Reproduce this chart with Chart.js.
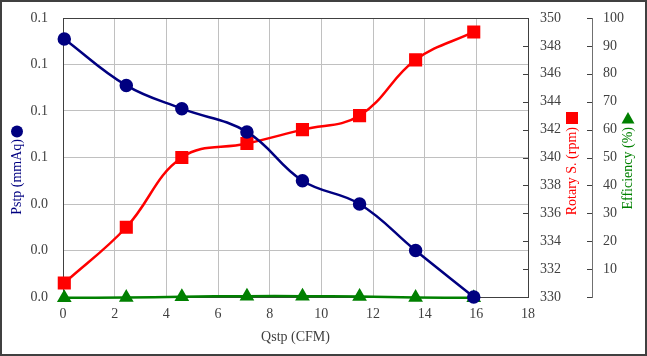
<!DOCTYPE html>
<html><head><meta charset="utf-8">
<script src="https://cdn.jsdelivr.net/npm/chart.js@4/dist/chart.umd.min.js"></script>
<style>html,body{margin:0;padding:0;background:#fff}#wrap{width:647px;height:356px;position:relative}canvas{display:block}</style>
</head><body><div id="wrap"><canvas id="c" width="647" height="356"></canvas></div>
<script>
const qstp = [0.05, 2.45, 4.6, 7.12, 9.27, 11.48, 13.65, 15.9];
const pstp = [0.111, 0.091, 0.081, 0.071, 0.050, 0.040, 0.020, 0.000];
const rotary = [331, 335, 340, 341, 342, 343, 347, 349];
const efficiency = [-0.3, -0.2, 0.1, 0.3, 0.3, 0.2, -0.2, -0.3];
const xTitle = 'Qstp (CFM)';
const pstpTitle = 'Pstp (mmAq)';
const rotaryTitle = 'Rotary S. (rpm)';
const effTitle = 'Efficiency (%)';

const FONT = 'Liberation Serif';
const TXT = '#404040';
const GRID = '#c0c0c0';
const NONE = 'rgba(0,0,0,0)';
const toPts = (ys) => qstp.map((x, i) => ({x: x, y: ys[i]}));

const deco = {
  id: 'deco',
  afterDraw(chart) {
    const ctx = chart.ctx, a = chart.chartArea, s = chart.scales;
    ctx.save();
    ctx.strokeStyle = '#404040'; ctx.lineWidth = 1;
    ctx.beginPath(); ctx.moveTo(a.left, Math.round(a.top) + 0.5); ctx.lineTo(a.right, Math.round(a.top) + 0.5); ctx.stroke();
    ctx.beginPath();
    s.y1.ticks.forEach(t => { const y = Math.round(s.y1.getPixelForValue(t.value)) + 0.5; ctx.moveTo(s.y1.left - 5, y); ctx.lineTo(s.y1.left, y); });
    ctx.stroke();
    ctx.beginPath();
    s.y2.ticks.forEach(t => { const y = Math.round(s.y2.getPixelForValue(t.value)) + 0.5; ctx.moveTo(s.y2.left - 5, y); ctx.lineTo(s.y2.left, y); });
    ctx.stroke();
    ctx.font = '14px "' + FONT + '"';
    ctx.textBaseline = 'middle';
    const vTitle = (text, x, yTop, color) => {
      ctx.save(); ctx.translate(x, yTop); ctx.rotate(-Math.PI / 2);
      ctx.textAlign = 'right'; ctx.fillStyle = color; ctx.fillText(text, 0, 0); ctx.restore();
    };
    vTitle(pstpTitle, 17, 139, '#000080');
    ctx.fillStyle = '#000080';
    ctx.beginPath(); ctx.arc(17, 131.5, 6, 0, Math.PI * 2); ctx.fill();
    vTitle(rotaryTitle, 572, 127, '#ff0000');
    ctx.fillStyle = '#ff0000'; ctx.fillRect(566, 112, 12, 12);
    vTitle(effTitle, 628, 127, '#008000');
    ctx.fillStyle = '#008000';
    ctx.beginPath(); ctx.moveTo(628, 112); ctx.lineTo(634.5, 123.5); ctx.lineTo(621.5, 123.5); ctx.closePath(); ctx.fill();
    ctx.textAlign = 'center'; ctx.fillStyle = TXT;
    ctx.fillText(xTitle, (a.left + a.right) / 2, 337);
    ctx.strokeStyle = '#404040'; ctx.lineWidth = 2;
    ctx.strokeRect(1, 1, chart.width - 2, chart.height - 2);
    ctx.restore();
  }
};

new Chart(document.getElementById('c'), {
  type: 'line',
  data: {
    datasets: [
      {label: 'Pstp', data: toPts(pstp), yAxisID: 'y', borderColor: '#000080', backgroundColor: '#000080',
       borderWidth: 2.5, pointStyle: 'circle', pointRadius: 5.5, tension: 0.4, clip: false},
      {label: 'Rotary S.', data: toPts(rotary), yAxisID: 'y1', borderColor: '#ff0000', backgroundColor: '#ff0000',
       borderWidth: 2.5, pointStyle: 'rect', pointRadius: 7.5, tension: 0.4, clip: false},
      {label: 'Efficiency', data: toPts(efficiency), yAxisID: 'y2', borderColor: '#008000', backgroundColor: '#008000',
       borderWidth: 2.5, pointStyle: 'triangle', pointRadius: 6, tension: 0.4, clip: false}
    ]
  },
  options: {
    responsive: false, animation: false, devicePixelRatio: 1,
    layout: {padding: {top: 18, left: 0, right: 0, bottom: 0}},
    plugins: {legend: {display: false}, tooltip: {enabled: false}},
    scales: {
      x: {type: 'linear', min: 0, max: 18,
        ticks: {stepSize: 2, color: TXT, font: {family: FONT, size: 14}, padding: 9},
        grid: {color: GRID, drawTicks: false}, border: {color: '#404040'},
        afterFit: s => { s.height = 59; }},
      y: {position: 'left', min: 0, max: 0.12,
        ticks: {stepSize: 0.02, color: TXT, font: {family: FONT, size: 14}, padding: 3, callback: v => Number(v).toFixed(1)},
        grid: {color: GRID, drawTicks: true, tickLength: 12, tickColor: NONE}, border: {color: '#404040'},
        afterFit: s => { s.width = 63; }},
      y1: {position: 'right', weight: 0, min: 330, max: 350,
        ticks: {stepSize: 2, color: TXT, font: {family: FONT, size: 14}, padding: 3},
        grid: {drawOnChartArea: false, drawTicks: true, tickLength: 9, tickColor: NONE}, border: {color: '#404040'},
        afterFit: s => { s.width = 64; }},
      y2: {position: 'right', weight: 1, min: 0, max: 100,
        ticks: {stepSize: 10, color: TXT, font: {family: FONT, size: 14}, padding: 3, callback: v => v === 0 ? '' : String(v)},
        grid: {drawOnChartArea: false, drawTicks: true, tickLength: 8, tickColor: NONE}, border: {color: '#707070'},
        afterFit: s => { s.width = 55; }}
    }
  },
  plugins: [deco]
});
</script></body></html>
